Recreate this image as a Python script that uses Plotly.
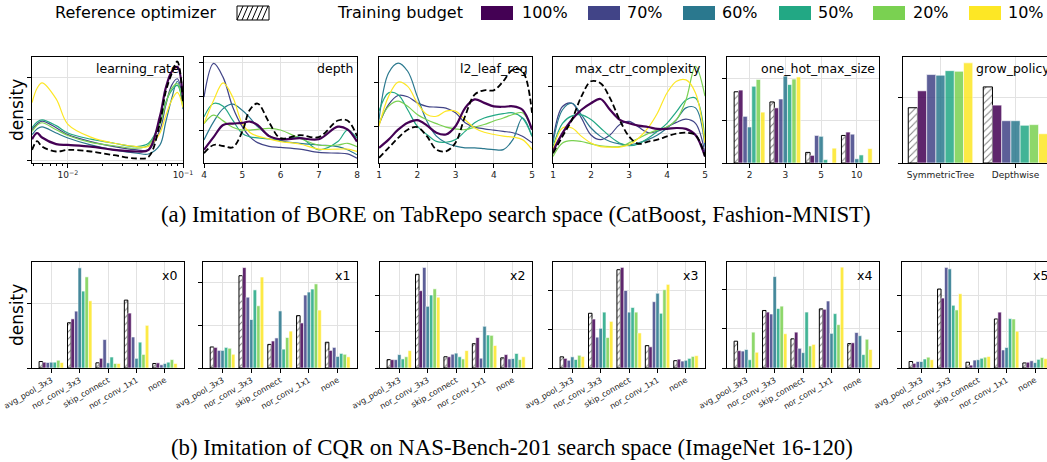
import plotly.graph_objects as go

W, H = 1047, 462

BUDGETS = ["100%", "70%", "60%", "50%", "20%", "10%"]
COLORS = ["#440154", "#414487", "#2a788e", "#22a884", "#7ad151", "#fde725"]

# ---------- (a) TabRepo / CatBoost: KDE panels ----------
LR_X = [0.00488, 0.0054, 0.00596, 0.0079, 0.01, 0.0158, 0.0252, 0.0397, 0.0502, 0.0631, 0.0706, 0.0796, 0.0893, 0.1]
LR_REF = [0.25, 0.46, 0.33, 0.21, 0.25, 0.21, 0.12, 0.04, 0.08, 0.91, 1.65, 2.10, 2.40, 1.40]
LR_CURVES = [
    [0.51, 0.66, 0.55, 0.39, 0.37, 0.33, 0.25, 0.21, 0.25, 1.07, 1.74, 2.15, 2.27, 1.49],
    [0.74, 0.88, 0.95, 0.79, 0.62, 0.45, 0.33, 0.25, 0.25, 0.74, 1.32, 1.82, 1.98, 1.40],
    [0.62, 0.76, 0.81, 0.66, 0.54, 0.37, 0.25, 0.17, 0.15, 0.37, 0.91, 1.49, 1.92, 1.24],
    [0.79, 0.93, 0.98, 0.84, 0.66, 0.51, 0.41, 0.33, 0.41, 0.91, 1.40, 1.69, 1.82, 1.32],
    [0.70, 0.85, 0.91, 0.74, 0.60, 0.43, 0.35, 0.29, 0.37, 0.87, 1.36, 1.74, 1.86, 1.32],
    [1.40, 1.75, 1.88, 1.49, 0.87, 0.56, 0.41, 0.33, 0.33, 0.66, 1.07, 1.45, 1.65, 1.28],
]

DEPTH_X = [4, 4.25, 4.5, 4.75, 5, 5.2, 5.4, 5.7, 6, 6.5, 7, 7.5, 7.75, 8]
DEPTH_REF = [0.34, 0.58, 0.55, 0.51, 0.97, 1.62, 1.80, 1.25, 0.78, 0.87, 0.81, 1.30, 1.30, 0.84]
DEPTH_CURVES = [
    [0.44, 0.81, 1.17, 1.21, 1.23, 1.27, 1.17, 0.84, 0.75, 0.78, 0.75, 1.12, 1.04, 0.68],
    [1.99, 2.98, 2.57, 1.70, 1.12, 0.82, 0.65, 0.54, 0.51, 0.46, 0.36, 0.34, 0.32, 0.19],
    [0.73, 1.26, 1.65, 1.78, 1.60, 1.38, 1.12, 0.86, 0.71, 0.63, 0.58, 0.53, 0.44, 0.29],
    [1.41, 1.80, 1.72, 1.31, 0.92, 0.82, 0.79, 0.76, 0.73, 0.81, 0.44, 0.68, 1.02, 0.78],
    [1.21, 1.46, 1.29, 1.10, 1.02, 1.02, 1.04, 1.07, 1.02, 0.78, 0.58, 0.58, 0.63, 0.53],
    [1.21, 1.89, 2.41, 1.99, 1.21, 0.95, 0.84, 0.76, 0.68, 0.61, 0.46, 0.46, 0.46, 0.39],
]

L2_X = [1, 1.25, 1.5, 1.75, 2, 2.25, 2.5, 2.75, 3, 3.25, 3.5, 3.75, 4, 4.25, 4.5, 4.75, 5]
L2_REF = [0.27, 0.50, 0.73, 0.92, 0.98, 0.77, 0.46, 0.42, 0.62, 1.23, 1.73, 1.83, 1.83, 2.04, 2.31, 2.27, 1.31]
L2_CURVES = [
    [0.50, 0.69, 0.92, 1.08, 1.14, 1.02, 0.85, 0.81, 1.00, 1.42, 1.62, 1.54, 1.46, 1.45, 1.46, 1.38, 0.92],
    [1.04, 1.50, 1.71, 1.68, 1.54, 1.46, 1.44, 1.42, 1.31, 1.08, 0.98, 0.94, 0.91, 0.88, 0.85, 0.77, 0.62],
    [1.15, 2.23, 2.46, 2.27, 1.69, 1.12, 0.77, 0.62, 0.54, 0.50, 0.50, 0.48, 0.46, 0.46, 0.69, 1.19, 0.77],
    [1.35, 1.77, 1.73, 1.38, 1.00, 0.81, 0.65, 0.63, 0.69, 0.88, 1.08, 1.19, 1.25, 1.29, 1.31, 1.19, 0.77],
    [1.08, 1.46, 1.58, 1.46, 1.27, 1.15, 1.06, 0.98, 0.94, 0.92, 0.98, 1.04, 1.12, 1.19, 1.27, 1.31, 0.92],
    [1.00, 1.69, 2.02, 1.92, 1.54, 1.27, 1.23, 1.35, 1.35, 1.15, 0.96, 0.86, 0.81, 0.77, 0.75, 0.69, 0.46],
]

MCC_X = [1, 1.25, 1.5, 1.75, 2, 2.25, 2.5, 2.75, 3, 3.25, 3.5, 3.75, 4, 4.25, 4.5, 4.75, 5]
MCC_REF = [0.57, 0.93, 1.29, 1.79, 2.11, 2.07, 1.75, 1.29, 0.93, 0.77, 0.82, 0.86, 0.93, 0.99, 1.01, 0.96, 0.50]
MCC_CURVES = [
    [0.61, 1.00, 1.29, 1.50, 1.64, 1.73, 1.50, 1.29, 1.21, 1.16, 1.13, 1.09, 1.09, 1.11, 1.09, 0.96, 0.50],
    [0.86, 1.57, 1.64, 1.32, 0.96, 0.86, 0.96, 1.18, 1.25, 1.13, 1.01, 1.04, 1.13, 1.23, 1.30, 1.21, 0.57],
    [0.79, 1.50, 1.64, 1.39, 1.11, 0.93, 0.82, 0.77, 0.75, 0.79, 0.86, 0.96, 1.11, 1.29, 1.54, 1.54, 0.71],
    [0.71, 1.21, 1.37, 1.39, 1.29, 1.11, 0.93, 0.79, 0.73, 0.77, 0.89, 1.04, 1.21, 1.46, 1.71, 1.75, 0.86],
    [0.50, 0.79, 0.84, 0.82, 0.77, 0.73, 0.71, 0.71, 0.79, 0.89, 0.99, 1.07, 1.13, 1.29, 1.71, 2.43, 1.79],
    [0.64, 1.11, 1.11, 0.93, 0.79, 0.71, 0.70, 0.70, 0.75, 0.89, 1.11, 1.43, 1.86, 2.11, 2.14, 1.86, 0.79],
]

# ---------- (a) categorical panels ----------
OHMS_CATS = ["2", "3", "5", "10"]
OHMS_REF = [1.68, 1.44, 0.25, 0.65]
OHMS_BARS = [
    [1.72, 1.30, 0.18, 0.73],
    [1.10, 1.51, 0.65, 0.68],
    [0.85, 2.05, 0.63, 0.10],
    [1.81, 1.85, 0.08, 0.19],
    [1.97, 1.98, 0.00, 0.00],
    [1.20, 2.03, 0.35, 0.34],
]

GP_CATS = ["SymmetricTree", "Depthwise"]
GP_REF = [0.85, 1.17]
GP_BARS = [[1.11, 0.89], [1.36, 0.65], [1.35, 0.65], [1.42, 0.58], [1.41, 0.59], [1.54, 0.45]]

# ---------- (b) NAS-Bench-201 ----------
OPS = ["avg_pool_3x3", "nor_conv_3x3", "skip_connect", "nor_conv_1x1", "none"]
NAS_NAMES = ["x0", "x1", "x2", "x3", "x4", "x5"]
NAS_REF = [
    [0.10, 0.70, 0.08, 1.05, 0.07],
    [0.49, 2.15, 0.55, 1.22, 0.60],
    [0.23, 2.58, 0.31, 0.67, 0.28],
    [0.29, 1.42, 2.55, 0.58, 0.19],
    [0.68, 1.46, 0.74, 1.50, 0.62],
    [0.18, 2.19, 0.16, 1.36, 0.14],
]
NAS_X0 = [[0.09, 0.76, 0.15, 0.85, 0.08], [0.085, 0.88, 0.44, 0.48, 0.05], [0.09, 1.55, 0.08, 0.15, 0.07],
          [0.09, 1.19, 0.17, 0.40, 0.09], [0.12, 1.41, 0.07, 0.21, 0.13], [0.085, 1.04, 0.07, 0.66, 0.07]]
NAS_X1 = [[0.48, 2.34, 0.63, 1.05, 0.41], [0.41, 1.65, 0.70, 1.70, 0.48], [0.41, 1.13, 1.33, 1.77, 0.27],
          [0.48, 1.82, 0.44, 1.84, 0.34], [0.46, 1.45, 0.71, 1.96, 0.32], [0.32, 2.12, 0.86, 1.35, 0.26]]
NAS_X2 = [[0.23, 2.13, 0.31, 0.84, 0.37], [0.23, 2.77, 0.38, 0.27, 0.25], [0.37, 1.70, 0.41, 1.15, 0.26],
          [0.25, 2.01, 0.31, 0.91, 0.40], [0.31, 2.18, 0.25, 0.90, 0.23], [0.48, 1.95, 0.48, 0.62, 0.31]]
NAS_X3 = [[0.25, 1.27, 2.61, 0.55, 0.23], [0.20, 0.80, 2.01, 1.72, 0.18], [0.29, 1.03, 1.45, 1.94, 0.20],
          [0.22, 1.45, 1.57, 1.42, 0.25], [0.33, 0.79, 1.45, 2.03, 0.30], [0.30, 1.21, 0.91, 2.17, 0.32]]
NAS_X4 = [[0.44, 1.42, 0.91, 1.49, 0.64], [0.43, 1.37, 0.50, 1.70, 0.90], [0.47, 2.32, 0.39, 0.88, 0.82],
          [0.21, 1.51, 1.42, 1.38, 0.34], [0.91, 1.57, 0.56, 1.10, 0.73], [0.40, 0.87, 0.60, 2.56, 0.47]]
NAS_X5 = [[0.13, 1.94, 0.08, 1.55, 0.16], [0.18, 2.79, 0.22, 0.50, 0.20], [0.18, 2.75, 0.23, 0.57, 0.15],
          [0.25, 1.74, 0.27, 1.37, 0.24], [0.30, 1.61, 0.30, 1.36, 0.29], [0.23, 2.06, 0.32, 1.02, 0.26]]
NAS_BARS = [NAS_X0, NAS_X1, NAS_X2, NAS_X3, NAS_X4, NAS_X5]
NAS_YMAX = [1.64, 2.47, 2.92, 2.75, 2.69, 2.94]

# ---------- geometry (pixels) ----------
COLS_TOP = [(32, 183), (204, 357), (379, 532), (553, 705), (727, 879), (903, 1047)]
COLS_BOT = [(32, 184), (203, 357), (380, 532), (553, 705), (727, 879), (902, 1047)]
ROW_TOP = (57, 163)
ROW_BOT = (262, 368)


def px(x):
    return x / W


def py(y):
    return 1 - y / H


AXIS = dict(
    showline=True, linecolor="black", linewidth=1.2, mirror=True,
    ticks="outside", ticklen=3.5, tickwidth=1, tickcolor="black",
    showgrid=True, gridcolor="#e2e2e2", gridwidth=1, zeroline=False,
    tickfont=dict(family="DejaVu Sans", size=9, color="#222"),
)

fig = go.Figure()
layout = {}
annotations = []


def add_axes(i, cols, row, xopts, yopts, last=False):
    xa = dict(AXIS, domain=[px(cols[0]), min(px(cols[1]), 1.0)], anchor=f"y{i}", **xopts)
    ya = dict(AXIS, domain=[py(row[1]), py(row[0])], anchor=f"x{i}", showticklabels=False, **yopts)
    if last:
        ya["mirror"] = False
    layout["xaxis" if i == 1 else f"xaxis{i}"] = xa
    layout["yaxis" if i == 1 else f"yaxis{i}"] = ya


def add_title(text, right_px, top_px):
    annotations.append(dict(
        text=text, xref="paper", yref="paper", x=px(right_px), y=py(top_px),
        xanchor="right", yanchor="top", showarrow=False,
        font=dict(family="DejaVu Sans", size=12.5, color="black"),
    ))


def add_kde(i, xs, ref, curves):
    ax = dict(xaxis="x" if i == 1 else f"x{i}", yaxis="y" if i == 1 else f"y{i}")
    for k in range(1, 6):
        fig.add_trace(go.Scatter(x=xs, y=curves[k], mode="lines", line=dict(color=COLORS[k], width=1.2, shape="spline", smoothing=1.0), showlegend=False, **ax))
    fig.add_trace(go.Scatter(x=xs, y=curves[0], mode="lines", line=dict(color=COLORS[0], width=2.2, shape="spline", smoothing=1.0), showlegend=False, **ax))
    fig.add_trace(go.Scatter(x=xs, y=ref, mode="lines", line=dict(color="black", width=1.8, dash="6px,3px", shape="spline", smoothing=1.0), showlegend=False, **ax))


def add_bars(i, cats, ref, bars):
    ax = dict(xaxis="x" if i == 1 else f"x{i}", yaxis="y" if i == 1 else f"y{i}")
    fig.add_trace(go.Bar(
        x=cats, y=ref, showlegend=False,
        marker=dict(color="white", line=dict(color="black", width=1),
                    pattern=dict(shape="/", fgcolor="black", bgcolor="white", size=5, solidity=0.2)),
        **ax))
    for k in range(6):
        fig.add_trace(go.Bar(
            x=cats, y=bars[k], showlegend=False, opacity=0.85,
            marker=dict(color=COLORS[k], line=dict(color="white", width=0.6)), **ax))


# ---- top row ----
add_kde(1, LR_X, LR_REF, LR_CURVES)
add_axes(1, COLS_TOP[0], ROW_TOP,
         dict(type="log", range=[-2.312, -1], tickvals=[0.01, 0.1],
              ticktext=["10<sup>−2</sup>", "10<sup>−1</sup>"],
              minor=dict(tickvals=[0.005, 0.006, 0.007, 0.008, 0.009, 0.02, 0.03, 0.04, 0.05, 0.06, 0.07, 0.08, 0.09],
                         ticks="outside", ticklen=2, tickcolor="black", showgrid=False)),
         dict(range=[-0.07, 2.51], tickvals=[0, 1, 2]))
add_title("learning_rate", 181, 59)

add_kde(2, DEPTH_X, DEPTH_REF, DEPTH_CURVES)
add_axes(2, COLS_TOP[1], ROW_TOP, dict(range=[4, 8], tickvals=[4, 5, 6, 7, 8]),
         dict(range=[0.05, 3.17], tickvals=[1, 2, 3]))
add_title("depth", 355, 59)

add_kde(3, L2_X, L2_REF, L2_CURVES)
add_axes(3, COLS_TOP[2], ROW_TOP, dict(range=[1, 5], tickvals=[1, 2, 3, 4, 5]),
         dict(range=[0.15, 2.6], tickvals=[1, 2]))
add_title("l2_leaf_reg", 530, 59)

add_kde(4, MCC_X, MCC_REF, MCC_CURVES)
add_axes(4, COLS_TOP[3], ROW_TOP, dict(range=[1, 5], tickvals=[1, 2, 3, 4, 5]),
         dict(range=[0.36, 2.63], tickvals=[1, 2]))
add_title("max_ctr_complexity", 703, 59)

add_bars(5, OHMS_CATS, OHMS_REF, OHMS_BARS)
add_axes(5, COLS_TOP[4], ROW_TOP, dict(type="category", range=[-0.63, 3.62]),
         dict(range=[0, 2.5], tickvals=[0, 1, 2]))
add_title("one_hot_max_size", 877, 59)

add_bars(6, GP_CATS, GP_REF, GP_BARS)
add_axes(6, COLS_TOP[5], ROW_TOP, dict(type="category", range=[-0.5, 1.42]),
         dict(range=[0, 1.63], tickvals=[0, 1]), last=True)
add_title("grow_policy", 1052, 59)

# ---- bottom row ----
for j in range(6):
    i = 7 + j
    add_bars(i, OPS, NAS_REF[j], NAS_BARS[j])
    xr = [-0.68, 4.67] if j < 5 else [-0.68, 4.42]
    add_axes(i, COLS_BOT[j], ROW_BOT,
             dict(type="category", range=xr, tickangle=-30,
                  tickfont=dict(family="DejaVu Sans", size=8, color="#222")),
             dict(range=[0, NAS_YMAX[j]], tickvals=[0, 1, 2]), last=(j == 5))
    right = COLS_BOT[j][1] - 5 if j < 5 else 1050
    add_title(NAS_NAMES[j], right, ROW_BOT[0] + 4)

# ---- y labels ----
for row in (ROW_TOP, ROW_BOT):
    annotations.append(dict(
        text="density", xref="paper", yref="paper", x=px(17), y=py((row[0] + row[1]) / 2),
        xanchor="center", yanchor="middle", textangle=-90, showarrow=False,
        font=dict(family="DejaVu Sans", size=17, color="black")))

# ---- captions ----
CAP_FONT = dict(family="Liberation Serif", size=22.8, color="black")
annotations.append(dict(
    text="(a) Imitation of BORE on TabRepo search space (CatBoost, Fashion-MNIST)",
    xref="paper", yref="paper", x=px(516), y=py(214), xanchor="center", yanchor="middle",
    showarrow=False, font=CAP_FONT))
annotations.append(dict(
    text="(b) Imitation of CQR on NAS-Bench-201 search space (ImageNet 16-120)",
    xref="paper", yref="paper", x=px(512), y=py(447), xanchor="center", yanchor="middle",
    showarrow=False, font=CAP_FONT))

# ---- legend (drawn by hand) ----
shapes = []
LEG_Y0, LEG_Y1 = 6, 20
LEG_FONT = dict(family="DejaVu Sans", size=16, color="black")


def leg_text(text, x_left):
    annotations.append(dict(text=text, xref="paper", yref="paper", x=px(x_left - 2), y=py(13),
                            xanchor="left", yanchor="middle", showarrow=False, font=LEG_FONT))


leg_text("Reference optimizer", 55)
shapes.append(dict(type="rect", xref="paper", yref="paper", x0=px(237), x1=px(269), y0=py(LEG_Y1), y1=py(LEG_Y0),
                   line=dict(color="black", width=1), fillcolor="white"))
for k in range(6):
    x0 = 237 + 5 * k
    shapes.append(dict(type="line", xref="paper", yref="paper", x0=px(x0), y0=py(LEG_Y1), x1=px(x0 + 6), y1=py(LEG_Y0),
                       line=dict(color="black", width=1)))
leg_text("Training budget", 337)
BOX_X = [481, 588, 683, 779, 873, 969]
TXT_X = [522, 627, 722, 818, 913, 1008]
for k in range(6):
    shapes.append(dict(type="rect", xref="paper", yref="paper", x0=px(BOX_X[k]), x1=px(BOX_X[k] + 32),
                       y0=py(LEG_Y1), y1=py(LEG_Y0), line=dict(width=0), fillcolor=COLORS[k]))
    leg_text(BUDGETS[k], TXT_X[k])

fig.update_layout(
    width=W, height=H,
    margin=dict(l=0, r=0, t=0, b=0, autoexpand=False),
    paper_bgcolor="white", plot_bgcolor="white",
    barmode="group", bargap=0.14, bargroupgap=0.0,
    font=dict(family="DejaVu Sans", color="black"),
    showlegend=False,
    hovermode=False,
    annotations=annotations,
    shapes=shapes,
    **layout,
)

# the default page body has an 8px margin; drop it so the figure fills the window
fig.write_html("out.html", config={"displayModeBar": False},
               post_script="document.body.style.margin='0px';")
